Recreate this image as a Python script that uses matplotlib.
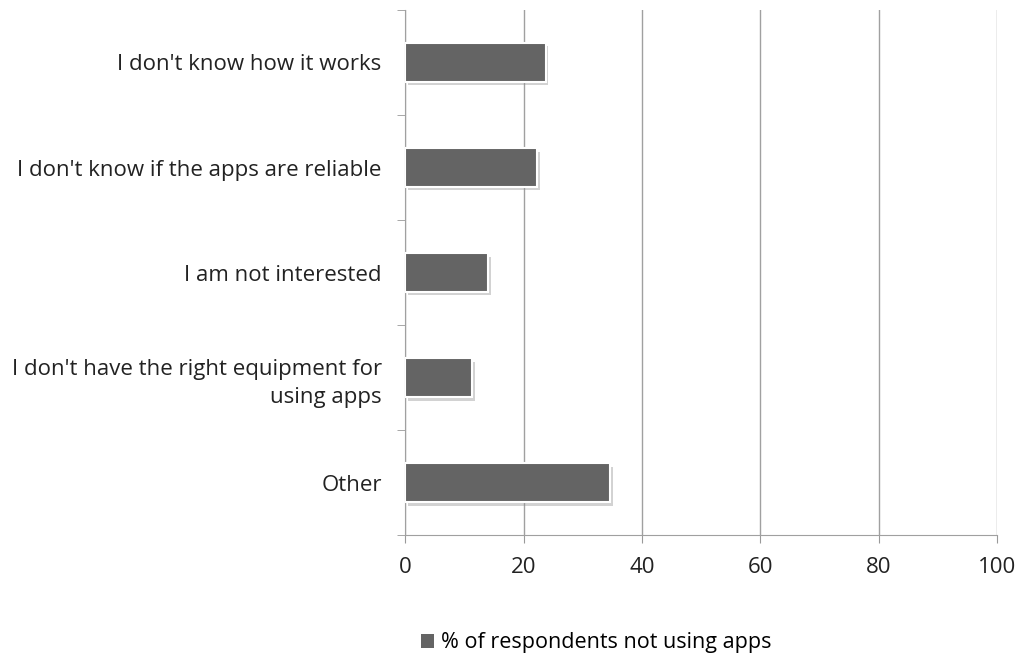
import matplotlib
matplotlib.use("Agg")
import matplotlib.pyplot as plt
import matplotlib.patheffects as pe
from matplotlib.patches import Patch
from matplotlib.ticker import FixedLocator

categorias = ["I don't know how it works",
              "I don't know if the apps are reliable",
              "I am not interested",
              "I don't have the right equipment for\nusing apps",
              "Other"]
valores = [23.7, 22.3, 14.0, 11.3, 34.6]
serie = "% of respondents not using apps"

plt.rcParams['font.family'] = ['Open Sans', 'DejaVu Sans']

fig = plt.figure(figsize=(10.21, 6.6), dpi=100)
ax = fig.add_axes([0.397, 0.189, 0.5795, 0.796])

pos = list(range(len(categorias)))
barras = ax.barh(pos, valores, height=0.37, color="#646464", edgecolor="white",
                 linewidth=1.5, zorder=3)
for b in barras:
    b.set_path_effects([pe.SimplePatchShadow(offset=(2, -2.5), shadow_rgbFace="#909090", alpha=0.4),
                        pe.Normal()])

ax.set_xlim(0, 100)
ax.set_ylim(len(categorias) - 0.5, -0.5)
ax.set_xticks(range(0, 101, 20))
ax.set_yticks(pos)
ax.set_yticklabels(categorias, fontsize=16, color="#222222", linespacing=1.45)
ax.tick_params(axis="x", labelsize=16, colors="#222222", length=6, color="#999999", pad=10)
ax.tick_params(axis="y", which="major", length=0, pad=17)
ax.yaxis.set_minor_locator(FixedLocator([i - 0.5 for i in range(len(categorias) + 1)]))
ax.tick_params(axis="y", which="minor", length=6, color="#999999")

ax.grid(axis="x", color="#A0A0A0", linewidth=1, zorder=0)
for s in ["top", "right"]:
    ax.spines[s].set_visible(False)
ax.spines["left"].set_color("#A0A0A0")
ax.spines["bottom"].set_color("#A0A0A0")

fig.legend(handles=[Patch(facecolor="#646464", edgecolor="none")], labels=[serie],
           loc="center", bbox_to_anchor=(0.584, 0.026),
           frameon=False, fontsize=15.5, handlelength=0.6, handleheight=0.6, handletextpad=0.3)

plt.savefig("out.png", dpi=100)
